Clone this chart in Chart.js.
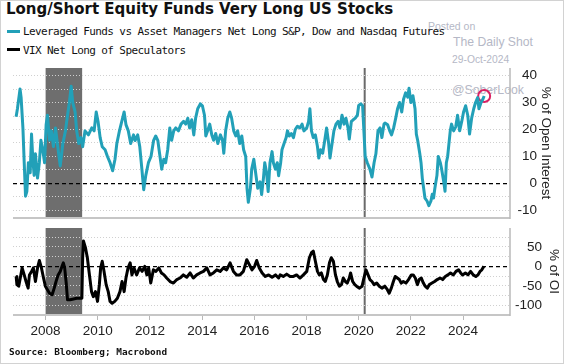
<!DOCTYPE html>
<html>
<head>
<meta charset="utf-8">
<script src="https://cdn.jsdelivr.net/npm/chart.js@4.4.1/dist/chart.umd.min.js"></script>
<style>
  html, body { margin: 0; padding: 0; background: #fff; }
  #wrap { position: relative; width: 564px; height: 364px; overflow: hidden; background: #fff; }
  #frame { position: absolute; left: 0; top: 0; width: 564px; height: 364px; box-sizing: border-box; border: 1px solid #d2d2d2; z-index: 5; pointer-events: none; }
  .wm { position: absolute; font-family: "Liberation Sans", Arial, sans-serif; color: #b5b8c6; white-space: nowrap; z-index: 1; line-height: 1; }
  canvas { position: absolute; left: 0; z-index: 2; }
  #title { position: absolute; left: 6px; top: 2px; font: bold 15px "DejaVu Sans", Verdana, sans-serif; line-height: 15px; color: #111; white-space: nowrap; z-index: 3; }
  .leg { position: absolute; left: 23px; font-family: "DejaVu Sans Mono", monospace; font-size: 11px; letter-spacing: -0.6px; line-height: 11px; color: #111; white-space: nowrap; z-index: 3; }
  .sw { position: absolute; left: 7px; width: 13px; height: 3px; z-index: 3; }
  #source { position: absolute; left: 9px; top: 347px; font: bold 9.4px "DejaVu Sans Mono", monospace; line-height: 9.4px; color: #111; white-space: nowrap; z-index: 3; }
</style>
</head>
<body>
<div id="wrap">
  <div class="wm" style="left:428px; top:21px; font-size:10.5px;">Posted on</div>
  <div class="wm" style="left:453px; top:36px; font-size:12.2px;">The Daily Shot</div>
  <div class="wm" style="left:452px; top:55px; font-size:10.3px;">29-Oct-2024</div>
  <div class="wm" style="left:452px; top:84px; font-size:12.3px;">@SoberLook</div>

  <div id="title">Long/Short Equity Funds Very Long US Stocks</div>
  <div class="sw" style="top:30px; background:#22a0b8;"></div>
  <div class="leg" style="top:26px;">Leveraged Funds vs Asset Managers Net Long S&amp;P, Dow and Nasdaq Futures</div>
  <div class="sw" style="top:48px; background:#000;"></div>
  <div class="leg" style="top:44.5px;">VIX Net Long of Speculators</div>

  <canvas id="topChart" width="564" height="166" style="top:60px;"></canvas>
  <canvas id="bottomChart" width="564" height="123" style="top:222px;"></canvas>

  <div id="source">Source: Bloomberg; Macrobond</div>
  <div id="frame"></div>
</div>

<script>
// Leveraged Funds vs Asset Managers net long, % of open interest
const levYears = [
  2006.87, 2006.92, 2007.00, 2007.02, 2007.06, 2007.13, 2007.18, 2007.23, 2007.28, 2007.34, 2007.41, 2007.46, 2007.51, 2007.56, 2007.61, 2007.69, 2007.76, 2007.82, 2007.89, 2007.96,
  2008.02, 2008.07, 2008.15, 2008.22, 2008.30, 2008.38, 2008.45, 2008.56, 2008.66, 2008.76, 2008.84, 2008.91, 2008.98,
  2009.04, 2009.13, 2009.19, 2009.27, 2009.35, 2009.42, 2009.51, 2009.64, 2009.77, 2009.86, 2009.94,
  2010.01, 2010.09, 2010.17, 2010.28, 2010.37, 2010.47, 2010.57, 2010.66, 2010.73, 2010.83, 2010.92,
  2011.01, 2011.08, 2011.17, 2011.26, 2011.37, 2011.43, 2011.53, 2011.61, 2011.69, 2011.76, 2011.84, 2011.94,
  2012.04, 2012.14, 2012.22, 2012.30, 2012.37, 2012.45, 2012.53, 2012.60, 2012.68, 2012.76, 2012.83, 2012.91, 2012.99,
  2013.09, 2013.19, 2013.29, 2013.37, 2013.45, 2013.52, 2013.60, 2013.68, 2013.75, 2013.83, 2013.93,
  2014.01, 2014.09, 2014.14, 2014.21, 2014.29, 2014.37, 2014.44, 2014.52, 2014.60, 2014.70, 2014.78, 2014.83, 2014.90, 2014.98,
  2015.06, 2015.13, 2015.21, 2015.29, 2015.36, 2015.44, 2015.52, 2015.59, 2015.67, 2015.72, 2015.77, 2015.85, 2015.90, 2015.98,
  2016.05, 2016.13, 2016.22, 2016.28, 2016.35, 2016.40, 2016.47, 2016.53, 2016.60, 2016.68, 2016.73, 2016.81, 2016.88, 2016.93,
  2017.01, 2017.06, 2017.14, 2017.22, 2017.27, 2017.34, 2017.42, 2017.50, 2017.57, 2017.65, 2017.75, 2017.83, 2017.90,
  2018.01, 2018.08, 2018.13, 2018.19, 2018.26, 2018.34, 2018.42, 2018.47, 2018.54, 2018.62, 2018.70, 2018.77, 2018.85, 2018.90, 2018.98,
  2019.05, 2019.13, 2019.21, 2019.28, 2019.36, 2019.44, 2019.51, 2019.59, 2019.64, 2019.72, 2019.79, 2019.87, 2019.95,
  2020.00, 2020.08, 2020.15, 2020.20, 2020.25, 2020.33, 2020.43, 2020.51, 2020.59, 2020.66, 2020.74, 2020.82, 2020.89, 2020.97,
  2021.01, 2021.11, 2021.19, 2021.26, 2021.34, 2021.42, 2021.49, 2021.57, 2021.65, 2021.72, 2021.80, 2021.88, 2021.93,
  2022.00, 2022.08, 2022.16, 2022.21, 2022.26, 2022.34, 2022.39, 2022.44, 2022.49, 2022.54, 2022.62, 2022.69, 2022.77, 2022.82, 2022.87, 2022.92,
  2023.00, 2023.05, 2023.13, 2023.18, 2023.26, 2023.31, 2023.36, 2023.41, 2023.46, 2023.51, 2023.56, 2023.64, 2023.72, 2023.79, 2023.87, 2023.95,
  2024.02, 2024.10, 2024.18, 2024.25, 2024.33, 2024.41, 2024.48, 2024.56, 2024.61, 2024.69, 2024.76, 2024.81
]
const levValues = [
  24.7, 27.7, 33.6, 35, 32, 20.6, 7.7, -4.7, -3, 7.7, 4, 18.3, 9, 3, 11, 2, 7.7, 16, 12.5, 7.7,
  21.8, 25.3, 16, 19.5, 13.7, 20.6, 14.8, 6.5, 14.8, 19.5, 25.3, 30, 36,
  30, 26.5, 19.5, 14.8, 17, 13.6, 19.5, 18, 20.6, 19.5, 26.5,
  23, 17, 13.6, 12.5, 10, 7.7, 4.7, 9, 14.8, 19.5, 23,
  26.5, 21.8, 19.5, 14.8, 18, 15.9, 18, 13.6, 5.3, -2.3, 3, 7.7,
  10, 16, 17.6, 16, 11, 5.3, 9, 7.7, 12.5, 20.6, 16, 19.5, 20.6,
  19.5, 22, 23, 22, 24.2, 20.6, 23.6, 18, 24.2, 27.7, 29.5,
  28.8, 25.3, 17.6, 19.5, 22, 18, 16, 18.5, 14.8, 18, 16, 11.2, 19.5, 24.2,
  26.5, 24.2, 19.5, 17.6, 19.5, 14.8, 17.6, 12.5, 10, -1.8, -7, -1.8, 5.3, 9,
  4, -1.8, 0.6, -4.1, 2, 7.7, 4, -3, 7.7, 11.8, 7.7, 5.3, 7.7, 2.9,
  7.7, 12.5, 14.8, 17, 19.5, 17.6, 18.5, 17, 20, 21.2, 20.6, 22, 19.5,
  20.6, 23, 27.7, 19.5, 17, 18, 13.7, 9.4, 12.5, 11.2, 16, 20.6, 14.8, 9.4, 14.8,
  19.5, 22, 23, 20.6, 25.3, 22, 24.2, 20.6, 16.5, 23, 23.6, 24.2, 25.3,
  28.9, 29.5, 28.8, 19.5, 10, 7.7, 5.3, 2.4, 7.7, 11, 19.5, 20.6, 17, 22,
  22.4, 21.8, 19.5, 18, 20.6, 24.2, 27.7, 30, 26.5, 31.2, 33.6, 32, 35.3,
  30, 32.5, 27.7, 18.3, 16, 11.2, 7.7, 1.8, -1.8, -5.4, -6.5, -8.2, -6.5, -4, -5.4, -1.8,
  3, 10, 7.7, 5.3, 0.6, -2.9, 7.7, 10, 14.8, 19.5, 22, 19.5, 21, 25.3, 19.5, 23,
  26.5, 28.8, 25.3, 18.3, 24.2, 27.7, 30, 31.8, 27.7, 30, 31.2, 32.4
]

// VIX net long of speculators, % of open interest
const vixYears = [
  2006.87, 2006.90, 2006.97, 2007.05, 2007.10, 2007.18, 2007.25, 2007.33, 2007.38, 2007.46, 2007.53, 2007.61, 2007.69, 2007.76, 2007.84, 2007.92, 2007.99,
  2008.07, 2008.15, 2008.25, 2008.33, 2008.40, 2008.48, 2008.56, 2008.63, 2008.68, 2008.73, 2008.79, 2008.84, 2008.94,
  2009.07, 2009.19, 2009.39, 2009.42, 2009.45, 2009.53, 2009.60, 2009.68, 2009.76, 2009.83, 2009.91, 2009.99,
  2010.06, 2010.11, 2010.17, 2010.24, 2010.32, 2010.40, 2010.47, 2010.55, 2010.65, 2010.75, 2010.85, 2010.93,
  2011.01, 2011.08, 2011.16, 2011.24, 2011.31, 2011.39, 2011.49, 2011.60, 2011.70, 2011.80, 2011.88, 2011.95,
  2012.03, 2012.13, 2012.23, 2012.34, 2012.44, 2012.54, 2012.64, 2012.77, 2012.90,
  2013.03, 2013.15, 2013.28, 2013.41, 2013.54, 2013.66, 2013.79, 2013.92,
  2014.05, 2014.18, 2014.30, 2014.43, 2014.56, 2014.69, 2014.81, 2014.94,
  2015.07, 2015.20, 2015.32, 2015.45, 2015.58, 2015.71, 2015.81, 2015.91,
  2016.01, 2016.09, 2016.19, 2016.30, 2016.42, 2016.55, 2016.68, 2016.81, 2016.93, 2016.99,
  2017.11, 2017.24, 2017.37, 2017.50, 2017.62, 2017.75, 2017.88,
  2018.01, 2018.11, 2018.19, 2018.26, 2018.34, 2018.42, 2018.49, 2018.57, 2018.65, 2018.72, 2018.80, 2018.88, 2018.95,
  2019.03, 2019.11, 2019.18, 2019.26, 2019.34, 2019.41, 2019.49, 2019.56, 2019.64, 2019.69, 2019.77, 2019.85, 2019.92,
  2020.02, 2020.13, 2020.20, 2020.28, 2020.36, 2020.43, 2020.51, 2020.59, 2020.69, 2020.79, 2020.89,
  2021.00, 2021.10, 2021.17, 2021.25, 2021.33, 2021.40, 2021.48, 2021.56, 2021.63, 2021.71, 2021.81, 2021.91,
  2022.02, 2022.09, 2022.17, 2022.25, 2022.32, 2022.40, 2022.48, 2022.55, 2022.63, 2022.71, 2022.81, 2022.91,
  2023.01, 2023.12, 2023.22, 2023.32, 2023.42, 2023.52, 2023.63, 2023.73, 2023.83, 2023.91, 2023.98,
  2024.09, 2024.19, 2024.29, 2024.39, 2024.49, 2024.57, 2024.65, 2024.72, 2024.80
]
const vixValues = [
  -26, -47, -51, -22, -4, -22, -39, -56, -22, -13, -4, -39, -4, 15, -4, -30, -51,
  -60, -69, -73, -56, -39, -22, -13, 0, 9, -4, -43, -86, -86,
  -84, -82, -82, 22, 65, 47, 22, -22, -65, -78, -65, -90,
  -47, -4, 13, -13, -47, -65, -90, -95, -90, -82, -65, -39,
  -65, -30, -4, 9, -22, -4, -22, -4, -13, 0, -22, -4,
  -43, -9, -13, -4, -17, -22, -30, -39, -43,
  -34, -30, -22, -28, -17, -30, -22, -17,
  -13, -4, -22, -17, -9, -13, -4, -9,
  9, -13, -22, -22, -13, 17, 4, -9,
  0, 15, -4, -17, -26, -22, -28, -22, -30, -22,
  -26, -20, -26, -26, -22, -30, -22,
  -13, 22, 35, 39, 13, -13, -22, -17, -34, -39, -22, 9, 22,
  13, -22, -39, -51, -47, -30, -39, -43, -30, -17, -39, -47, -51,
  -56, -51, -30, -9, -22, -34, -39, -47, -43, -51, -56,
  -51, -60, -69, -56, -39, -26, -30, -34, -43, -39, -43, -34,
  -22, -22, -30, -47, -34, -30, -43, -51, -56, -47, -43, -39,
  -34, -30, -34, -26, -22, -17, -22, -13, -9, -17, -22,
  -17, -22, -13, -22, -26, -22, -13, -9, 0
]

const yearTicks = [2008, 2010, 2012, 2014, 2016, 2018, 2020, 2022, 2024]
const levTickLabels = [-10, 0, 10, 20, 30, 40]
const vixTickLabels = [-100, -50, 0, 50]
const shadedPeriod = [2008.0, 2009.4]
const markerYear = 2020.23

const xRange = [2006.75, 2025.8]
const tealColor = '#22a0b8'
const tickFont = { family: "'Liberation Sans', Arial, sans-serif", size: 13.5 }

const toPoints = (xs, ys) => xs.map((x, i) => ({ x, y: ys[i] }))

const panelDecor = {
  id: 'panelDecor',
  beforeDraw(chart) {
    const { ctx, chartArea: a, scales: { x } } = chart
    ctx.save()
    const b0 = x.getPixelForValue(shadedPeriod[0])
    const b1 = x.getPixelForValue(shadedPeriod[1])
    ctx.fillStyle = '#6e6e6e'
    ctx.fillRect(b0, a.top, b1 - b0, a.bottom - a.top)
    const v = x.getPixelForValue(markerYear)
    ctx.strokeStyle = '#6a6a6a'
    ctx.lineWidth = 2
    ctx.beginPath()
    ctx.moveTo(v, a.top)
    ctx.lineTo(v, a.bottom)
    ctx.stroke()
    ctx.restore()
  },
  beforeDatasetsDraw(chart) {
    const { ctx, chartArea: a } = chart
    ctx.save()
    ctx.strokeStyle = '#c6c6c6'
    ctx.lineWidth = 2
    ctx.beginPath()
    ctx.moveTo(a.left, a.bottom)
    ctx.lineTo(a.right, a.bottom)
    ctx.stroke()
    ctx.strokeStyle = '#b8b8b8'
    ctx.lineWidth = 1.5
    ctx.beginPath()
    ctx.moveTo(a.right, a.top)
    ctx.lineTo(a.right, a.bottom + 1)
    ctx.stroke()
    ctx.restore()
  }
}

// right axis: labels right-aligned at the scale's right edge (crossAlign far),
// the title sits just outside it through a negative padding
function yAxis(min, max, step, labels, title, axisWidth, titlePad) {
  return {
    position: 'right',
    min, max,
    ticks: {
      stepSize: step,
      includeBounds: false,
      autoSkip: false,
      crossAlign: 'far',
      padding: 6,
      color: '#222',
      font: tickFont,
      callback: v => labels.includes(v) ? String(v) : ''
    },
    grid: {
      drawTicks: false,
      color: c => c.tick && c.tick.value === 0 ? '#000' : '#d0d0d0',
      lineWidth: c => c.tick && c.tick.value === 0 ? 1.3 : 1
    },
    border: {
      display: false,
      dash: c => c.tick && c.tick.value === 0 ? [4, 3] : [1, 2]
    },
    title: {
      display: true,
      text: title,
      color: '#222',
      font: { family: tickFont.family, size: 13.5 },
      padding: { top: titlePad, bottom: 0 }
    },
    afterFit(s) {
      s.width = axisWidth
      s.paddingTop = 0
      s.paddingBottom = 0
    }
  }
}

const baseOptions = {
  responsive: false,
  animation: false,
  devicePixelRatio: 1,
  plugins: { legend: { display: false }, tooltip: { enabled: false } },
  elements: { point: { radius: 0 }, line: { tension: 0 } }
}

const topChart = new Chart(document.getElementById('topChart').getContext('2d'), {
  type: 'line',
  data: {
    datasets: [
      {
        data: toPoints(levYears, levValues),
        borderColor: tealColor,
        borderWidth: 3,
        borderJoinStyle: 'round'
      },
      {
        // highlight ring on the latest reading
        data: [{ x: levYears[levYears.length - 1], y: levValues[levValues.length - 1] }],
        showLine: false,
        pointRadius: 6,
        pointBorderWidth: 2,
        pointBorderColor: '#db1f62',
        pointBackgroundColor: 'rgba(0,0,0,0)'
      }
    ]
  },
  options: {
    ...baseOptions,
    layout: { padding: { top: 6, bottom: 3, left: 13, right: 27 } },
    scales: {
      x: { type: 'linear', min: xRange[0], max: xRange[1], display: false },
      y: yAxis(-12.8, 42.8, 5, levTickLabels, '% of Open Interest', 27, -17)
    }
  },
  plugins: [panelDecor]
})

const bottomChart = new Chart(document.getElementById('bottomChart').getContext('2d'), {
  type: 'line',
  data: {
    datasets: [
      {
        data: toPoints(vixYears, vixValues),
        borderColor: '#000',
        borderWidth: 3,
        borderJoinStyle: 'round'
      }
    ]
  },
  options: {
    ...baseOptions,
    layout: { padding: { top: 6, bottom: 0, left: 13, right: 22 } },
    scales: {
      x: {
        type: 'linear',
        min: xRange[0], max: xRange[1],
        afterBuildTicks(s) { s.ticks = yearTicks.map(v => ({ value: v })) },
        ticks: {
          autoSkip: false,
          maxRotation: 0,
          padding: 3,
          color: '#222',
          font: tickFont,
          callback: v => String(v)
        },
        grid: { drawOnChartArea: false, drawTicks: true, tickLength: 5, tickColor: '#b8b8b8' },
        border: { display: false },
        afterFit(s) {
          s.height = 30
          s.paddingLeft = 0
          s.paddingRight = 0
        }
      },
      // max kept off a whole number of steps so ticks stay on multiples of 25
      y: yAxis(-125, 98.5, 25, vixTickLabels, '% of OI', 32, -20)
    }
  },
  plugins: [panelDecor]
})
</script>
</body>
</html>
